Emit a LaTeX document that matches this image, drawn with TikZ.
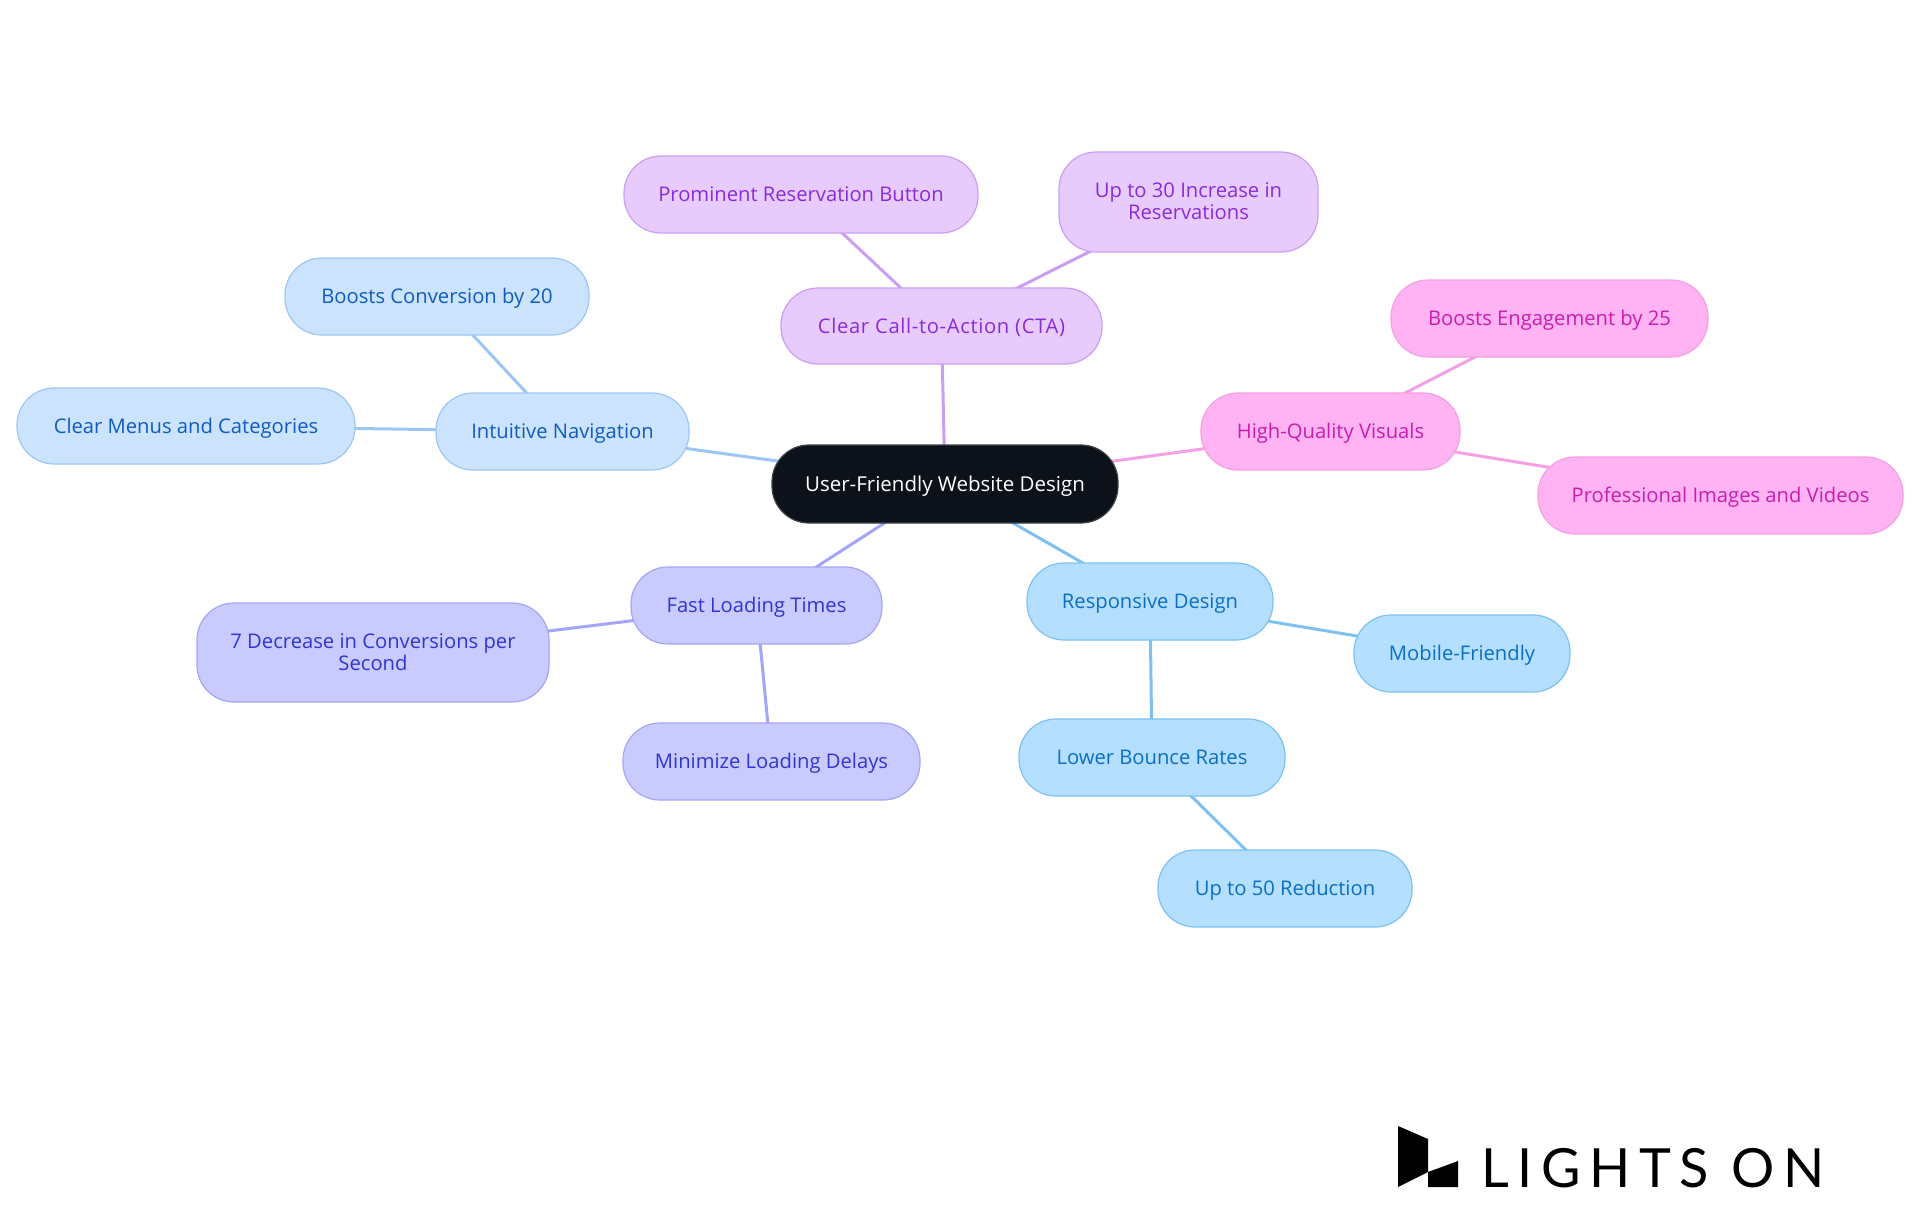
\documentclass[tikz,border=0pt]{standalone}
\usepackage{fontspec}
\setmainfont{Open Sans}
\newfontfamily\logofont[LetterSpace=16]{Lato}
\usetikzlibrary{backgrounds}
\newcommand\lstrut{\rule[-6.2pt]{0pt}{27.2pt}}
\newcommand\topstrut{\rule{0pt}{22pt}}
\newcommand\botstrut{\rule[-8.2pt]{0pt}{8.2pt}}
\definecolor{rootfill}{HTML}{0D121A}
\definecolor{navfill}{HTML}{CCE3FD}\definecolor{navline}{HTML}{9CC6F6}\definecolor{navtext}{HTML}{0F5BBF}
\definecolor{ctafill}{HTML}{E7CBFD}\definecolor{ctaline}{HTML}{CD9DF3}\definecolor{ctatext}{HTML}{8A2BD6}
\definecolor{visfill}{HTML}{FFB3F2}\definecolor{visline}{HTML}{F59FE4}\definecolor{vistext}{HTML}{C81DB0}
\definecolor{resfill}{HTML}{B4DFFF}\definecolor{resline}{HTML}{7DC1F2}\definecolor{restext}{HTML}{0A6FC2}
\definecolor{fastfill}{HTML}{C9CBFF}\definecolor{fastline}{HTML}{A3A6F6}\definecolor{fasttext}{HTML}{3035CF}
\tikzset{
  x=1pt,y=-1pt,
  box/.style={rounded corners=37pt,line width=1.2pt,inner sep=0pt,align=center,
    font=\fontsize{20.2}{22}\selectfont},
  nav/.style={box,draw=navline,fill=navfill,text=navtext},
  cta/.style={box,draw=ctaline,fill=ctafill,text=ctatext},
  vis/.style={box,draw=visline,fill=visfill,text=vistext},
  res/.style={box,draw=resline,fill=resfill,text=restext},
  fast/.style={box,draw=fastline,fill=fastfill,text=fasttext},
  rootbox/.style={box,draw=rootfill!80!white,fill=rootfill,text=white},
  wh/.style 2 args={minimum width=#1pt,minimum height=#2pt},
  edge/.style={line width=3pt}
}
\begin{document}
\begin{tikzpicture}
\useasboundingbox (0,0) rectangle (1920,1215);
\node[rootbox,wh={346}{78}] (root) at (945,484) {\lstrut\fontsize{20.5}{22}\selectfont User-Friendly Website Design};
\node[cta,wh={321}{76}] (cta) at (941.5,326) {\lstrut\addfontfeature{LetterSpace=3.2}Clear Call-to-Action (CTA)};
\node[cta,wh={354}{77}] (prom) at (801,194.5) {\lstrut Prominent Reservation Button};
\node[cta,wh={259}{100}] (incr) at (1188.5,202) {\topstrut Up to 30 Increase in\\\botstrut Reservations};
\node[nav,wh={253}{77}] (intu) at (562.5,431.5) {\lstrut Intuitive Navigation};
\node[nav,wh={304}{77}] (conv) at (437,296.5) {\lstrut Boosts Conversion by 20};
\node[nav,wh={338}{76}] (menu) at (186,426) {\lstrut Clear Menus and Categories};
\node[vis,wh={259}{77}] (hq) at (1330.5,431.5) {\lstrut High-Quality Visuals};
\node[vis,wh={317}{77}] (enga) at (1549.5,318.5) {\lstrut Boosts Engagement by 25};
\node[vis,wh={365}{77}] (prof) at (1720.5,495.5) {\lstrut Professional Images and Videos};
\node[res,wh={246}{77}] (resp) at (1150,601.5) {\lstrut Responsive Design};
\node[res,wh={216}{77}] (mobi) at (1462,653.5) {\lstrut Mobile-Friendly};
\node[res,wh={266}{77}] (lowe) at (1152,757.5) {\lstrut Lower Bounce Rates};
\node[res,wh={254}{77}] (redu) at (1285,888.5) {\lstrut Up to 50 Reduction};
\node[fast,wh={251}{77}] (load) at (756.5,605.5) {\lstrut Fast Loading Times};
\node[fast,wh={352}{99}] (decr) at (373,652.5) {\topstrut 7 Decrease in Conversions per\\\botstrut Second};
\node[fast,wh={297}{77}] (mini) at (771.5,761.5) {\lstrut Minimize Loading Delays};
\begin{pgfonlayer}{background}
\draw[edge,ctaline] (root.center) -- (cta.center);
\draw[edge,ctaline] (cta.center) -- (prom.center);
\draw[edge,ctaline] (cta.center) -- (incr.center);
\draw[edge,navline] (root.center) -- (intu.center);
\draw[edge,navline] (intu.center) -- (conv.center);
\draw[edge,navline] (intu.center) -- (menu.center);
\draw[edge,visline] (root.center) -- (hq.center);
\draw[edge,visline] (hq.center) -- (enga.center);
\draw[edge,visline] (hq.center) -- (prof.center);
\draw[edge,resline] (root.center) -- (resp.center);
\draw[edge,resline] (resp.center) -- (mobi.center);
\draw[edge,resline] (resp.center) -- (lowe.center);
\draw[edge,resline] (lowe.center) -- (redu.center);
\draw[edge,fastline] (root.center) -- (load.center);
\draw[edge,fastline] (load.center) -- (decr.center);
\draw[edge,fastline] (load.center) -- (mini.center);
\end{pgfonlayer}
\fill[black] (1398,1126) -- (1428,1139) -- (1428,1172) -- (1458,1161) -- (1458,1187) -- (1428,1187) -- (1428,1172) -- (1398,1187) -- cycle;
\node[anchor=base west,inner sep=0pt,font=\logofont\fontsize{54}{54}\selectfont] (logo) at (1481,1187) {LIGHTS ON};
\end{tikzpicture}
\end{document}
